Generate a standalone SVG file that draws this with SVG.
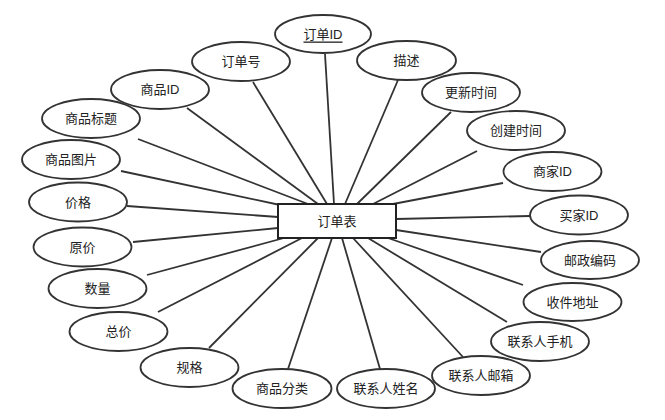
<svg xmlns="http://www.w3.org/2000/svg" width="665" height="420" viewBox="0 0 665 420">
<style>
.e{fill:#fff;stroke:#333;stroke-width:1.8}
.t{font-family:"Liberation Sans","Noto Sans CJK SC",sans-serif;font-size:13px;fill:#222;text-anchor:middle;dominant-baseline:central}
.c line{stroke:#333;stroke-width:1.8}
</style>
<rect width="665" height="420" fill="#fff"/>
<g id="connectors" class="c">
<line x1="325" y1="54" x2="334" y2="204"/>
<line x1="253" y1="82" x2="327" y2="204"/>
<line x1="187" y1="108" x2="318" y2="204"/>
<line x1="138" y1="139" x2="308" y2="204"/>
<line x1="121" y1="171" x2="280" y2="205"/>
<line x1="127" y1="206" x2="278" y2="217"/>
<line x1="133" y1="242" x2="278" y2="228"/>
<line x1="147" y1="275" x2="284" y2="238"/>
<line x1="158" y1="312" x2="302" y2="238"/>
<line x1="209" y1="348" x2="318" y2="238"/>
<line x1="288" y1="369" x2="332" y2="238"/>
<line x1="380" y1="369" x2="342" y2="238"/>
<line x1="463" y1="357" x2="353" y2="238"/>
<line x1="507" y1="322" x2="368" y2="238"/>
<line x1="523" y1="285" x2="388" y2="238"/>
<line x1="541" y1="252" x2="396" y2="230"/>
<line x1="530" y1="216" x2="396" y2="219"/>
<line x1="503" y1="183" x2="393" y2="204"/>
<line x1="477" y1="151" x2="373" y2="204"/>
<line x1="451" y1="112" x2="357" y2="204"/>
<line x1="398" y1="80" x2="345" y2="204"/>
</g>
<g id="main"><rect x="278" y="204" width="118" height="34" fill="#fff" stroke="#222" stroke-width="2"/><text class="t" x="337" y="221">订单表</text></g>
<g id="n1"><ellipse class="e" cx="323" cy="34" rx="48" ry="19"/><text class="t" x="323" y="34" text-decoration="underline">订单ID</text></g>
<g id="n2"><ellipse class="e" cx="241" cy="61.5" rx="49" ry="19.5"/><text class="t" x="241" y="61.5">订单号</text></g>
<g id="n3"><ellipse class="e" cx="160" cy="89.5" rx="49" ry="19.5"/><text class="t" x="160" y="89.5">商品ID</text></g>
<g id="n4"><ellipse class="e" cx="91" cy="118.5" rx="49" ry="19.5"/><text class="t" x="91" y="118.5">商品标题</text></g>
<g id="n5"><ellipse class="e" cx="71" cy="159.5" rx="49" ry="19.5"/><text class="t" x="71" y="159.5">商品图片</text></g>
<g id="n6"><ellipse class="e" cx="78" cy="202" rx="49" ry="19.5"/><text class="t" x="78" y="202">价格</text></g>
<g id="n7"><ellipse class="e" cx="82.5" cy="247" rx="49" ry="19.5"/><text class="t" x="82.5" y="247">原价</text></g>
<g id="n8"><ellipse class="e" cx="97.5" cy="288.5" rx="49" ry="19.5"/><text class="t" x="97.5" y="288.5">数量</text></g>
<g id="n9"><ellipse class="e" cx="118.5" cy="331.5" rx="49" ry="19.5"/><text class="t" x="118.5" y="331.5">总价</text></g>
<g id="n10"><ellipse class="e" cx="189.5" cy="367.5" rx="49" ry="19.5"/><text class="t" x="189.5" y="367.5">规格</text></g>
<g id="n11"><ellipse class="e" cx="282" cy="388.5" rx="49.5" ry="19.5"/><text class="t" x="282" y="388.5">商品分类</text></g>
<g id="n12"><ellipse class="e" cx="386" cy="388.5" rx="49" ry="19.5"/><text class="t" x="386" y="388.5">联系人姓名</text></g>
<g id="n13"><ellipse class="e" cx="481" cy="375.5" rx="49" ry="19.5"/><text class="t" x="481" y="375.5">联系人邮箱</text></g>
<g id="n14"><ellipse class="e" cx="540" cy="341.5" rx="49" ry="19.5"/><text class="t" x="540" y="341.5">联系人手机</text></g>
<g id="n15"><ellipse class="e" cx="572.5" cy="302" rx="49" ry="19"/><text class="t" x="572.5" y="302">收件地址</text></g>
<g id="n16"><ellipse class="e" cx="590" cy="260" rx="49" ry="19"/><text class="t" x="590" y="260">邮政编码</text></g>
<g id="n17"><ellipse class="e" cx="579" cy="215" rx="49" ry="19.5"/><text class="t" x="579" y="215">买家ID</text></g>
<g id="n18"><ellipse class="e" cx="552.5" cy="171.5" rx="49" ry="19.5"/><text class="t" x="552.5" y="171.5">商家ID</text></g>
<g id="n19"><ellipse class="e" cx="516" cy="130.5" rx="49" ry="19.5"/><text class="t" x="516" y="130.5">创建时间</text></g>
<g id="n20"><ellipse class="e" cx="471" cy="92.5" rx="49" ry="19.5"/><text class="t" x="471" y="92.5">更新时间</text></g>
<g id="n21"><ellipse class="e" cx="406.5" cy="60.5" rx="49.5" ry="19.5"/><text class="t" x="406.5" y="60.5">描述</text></g>
</svg>
